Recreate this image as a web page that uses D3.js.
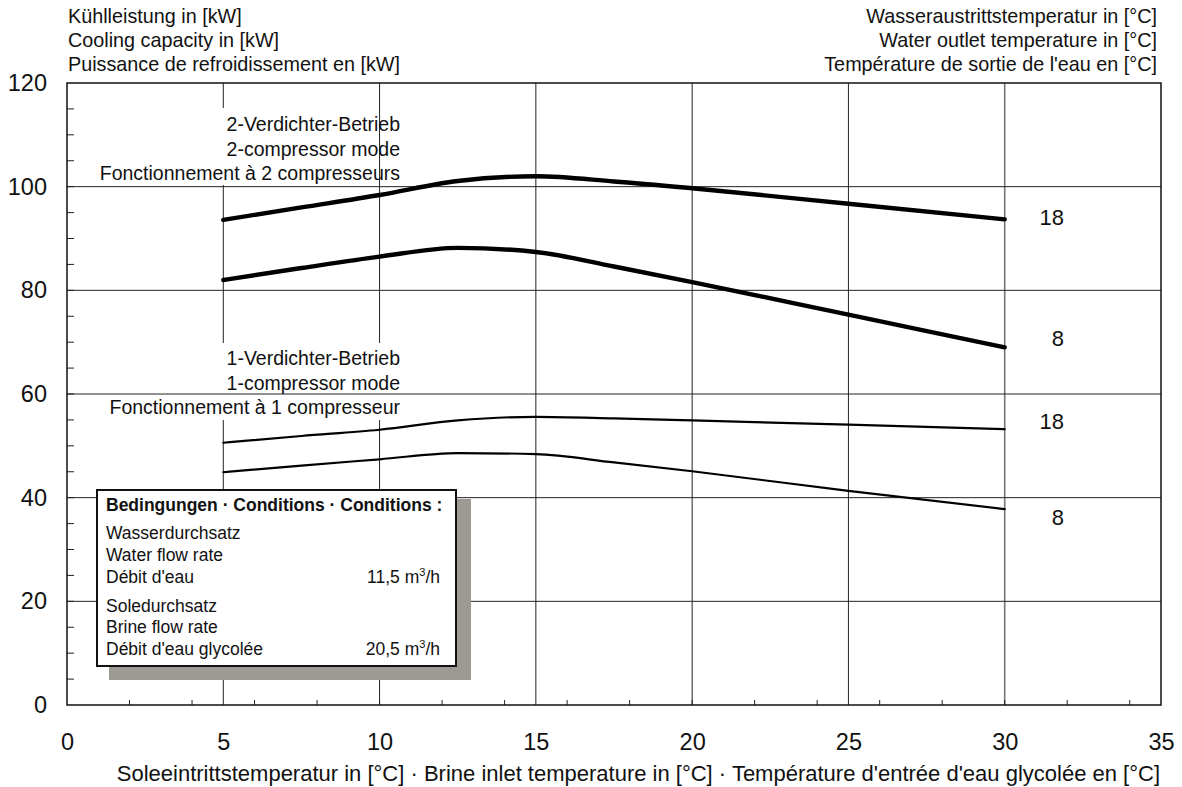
<!DOCTYPE html>
<html>
<head>
<meta charset="utf-8">
<script src="https://cdn.jsdelivr.net/npm/d3@7"></script>
<style>
body { margin: 0; background: #fff; }
svg { font-family: "Liberation Sans", Arial, sans-serif; }
</style>
</head>
<body>
<div id="grafico"></div>
<script>
// Werte
const soleTemp   = [5, 7.5, 10, 12.5, 15, 17.5, 20, 25, 30];
const zwei18     = [93.6, 96.0, 98.4, 101.1, 102.0, 101.0, 99.7, 96.7, 93.7];
const zwei8      = [82.0, 84.3, 86.5, 88.2, 87.4, 84.6, 81.6, 75.3, 69.0];
const ein18      = [50.6, 51.9, 53.1, 54.9, 55.6, 55.3, 54.9, 54.1, 53.2];
const ein8       = [44.9, 46.2, 47.4, 48.6, 48.4, 46.8, 45.1, 41.3, 37.8];
const austritt   = ["18", "8", "18", "8"];
const xTicks     = [0, 5, 10, 15, 20, 25, 30, 35];
const yTicks     = [0, 20, 40, 60, 80, 100, 120];

const titelLinks  = ["Kühlleistung in [kW]", "Cooling capacity in [kW]", "Puissance de refroidissement en [kW]"];
const titelRechts = ["Wasseraustrittstemperatur in [°C]", "Water outlet temperature in [°C]", "Température de sortie de l'eau en [°C]"];
const titelX = "Soleeintrittstemperatur in [°C] · Brine inlet temperature in [°C] · Température d'entrée d'eau glycolée en [°C]";
const text2 = ["2-Verdichter-Betrieb", "2-compressor mode", "Fonctionnement à 2 compresseurs"];
const text1 = ["1-Verdichter-Betrieb", "1-compressor mode", "Fonctionnement à 1 compresseur"];

const width = 1182;
const height = 787;
const marginLeft = 67;
const marginRight = 21;
const marginTop = 83;
const marginBottom = 82;

const svg = d3.select("#grafico")
  .append("svg")
  .attr("width", width)
  .attr("height", height);

const xScale = d3.scaleLinear().domain([0, 35]).range([marginLeft, width - marginRight]);
const yScale = d3.scaleLinear().domain([0, 120]).range([height - marginBottom, marginTop]);

// Gitter vertikal
svg.append("g")
  .selectAll("line")
  .data(xTicks.filter(d => d > 0 && d < 35))
  .enter()
  .append("line")
  .attr("x1", d => xScale(d)).attr("x2", d => xScale(d))
  .attr("y1", yScale(120)).attr("y2", yScale(0))
  .attr("stroke", d => d === 30 ? "#777" : "#222")
  .attr("stroke-width", d => d === 30 ? 1.6 : 1);

// weisse Hintergruende der Beschriftungen
svg.append("rect").attr("x", 200).attr("y", 108).attr("width", 170).attr("height", 77).attr("fill", "#fff");
svg.append("rect").attr("x", 200).attr("y", 343).attr("width", 205).attr("height", 77).attr("fill", "#fff");

// Gitter horizontal
svg.append("g")
  .selectAll("line")
  .data(yTicks.filter(d => d > 0 && d < 120))
  .enter()
  .append("line")
  .attr("x1", xScale(0)).attr("x2", xScale(35))
  .attr("y1", d => yScale(d)).attr("y2", d => yScale(d))
  .attr("stroke", "#222")
  .attr("stroke-width", 1);

// Achsen
const xAxis = d3.axisBottom(xScale).tickValues(xTicks).tickSize(0).tickPadding(28);
svg.append("g")
  .attr("transform", `translate(0,${yScale(0)})`)
  .call(xAxis)
  .call(g => g.select(".domain").remove())
  .selectAll("text").attr("font-size", 23.5).attr("fill", "#111").attr("font-family", "Liberation Sans, Arial, sans-serif");

const yAxis = d3.axisLeft(yScale).tickValues(yTicks).tickSize(0).tickPadding(20);
svg.append("g")
  .attr("transform", `translate(${xScale(0)},0)`)
  .call(yAxis)
  .call(g => g.select(".domain").remove())
  .selectAll("text").attr("font-size", 23.5).attr("fill", "#111").attr("font-family", "Liberation Sans, Arial, sans-serif");

// kleine Teilstriche
svg.append("g").selectAll("line")
  .data(d3.range(2, 35, 2))
  .enter().append("line")
  .attr("x1", d => xScale(d)).attr("x2", d => xScale(d))
  .attr("y1", yScale(0)).attr("y2", yScale(0) - 5)
  .attr("stroke", "#222");

svg.append("g").selectAll("line")
  .data(d3.range(5, 120, 5))
  .enter().append("line")
  .attr("x1", xScale(0)).attr("x2", xScale(0) + 7)
  .attr("y1", d => yScale(d)).attr("y2", d => yScale(d))
  .attr("stroke", "#222");

// Rahmen
svg.append("rect")
  .attr("x", xScale(0)).attr("y", yScale(120))
  .attr("width", xScale(35) - xScale(0)).attr("height", yScale(0) - yScale(120))
  .attr("fill", "none").attr("stroke", "#111").attr("stroke-width", 1.5);

// Kurven
const linie = d3.line()
  .x((d, i) => xScale(soleTemp[i]))
  .y(d => yScale(d))
  .curve(d3.curveMonotoneX);

const kurven = [
  { werte: zwei18, breite: 4.4, dy: -2 },
  { werte: zwei8, breite: 4.4, dy: -9 },
  { werte: ein18, breite: 2.2, dy: -8 },
  { werte: ein8, breite: 2.2, dy: 8 }
];

kurven.forEach((k, i) => {
  svg.append("path")
    .attr("d", linie(k.werte))
    .attr("fill", "none")
    .attr("stroke", "#000")
    .attr("stroke-width", k.breite)
    .attr("stroke-linecap", "round");

  svg.append("text")
    .attr("x", xScale(31.9))
    .attr("y", yScale(k.werte[k.werte.length - 1]) + k.dy)
    .attr("dy", "0.35em")
    .attr("text-anchor", "end")
    .attr("font-size", 22)
    .attr("fill", "#111")
    .text(austritt[i]);
});

// Betriebsart-Texte
const block = (zeilen, y0) => {
  svg.append("g").selectAll("text")
    .data(zeilen)
    .enter().append("text")
    .attr("x", 400)
    .attr("y", (d, i) => y0 + i * 24.5)
    .attr("text-anchor", "end")
    .attr("font-size", 19.5)
    .attr("fill", "#111")
    .text(d => d);
};
block(text2, 131);
block(text1, 365);

// Titel
svg.append("g").selectAll("text")
  .data(titelLinks).enter().append("text")
  .attr("x", 68).attr("y", (d, i) => 23 + i * 24)
  .attr("font-size", 19.8).attr("fill", "#111")
  .text(d => d);

svg.append("g").selectAll("text")
  .data(titelRechts).enter().append("text")
  .attr("x", 1157).attr("y", (d, i) => 23 + i * 24)
  .attr("text-anchor", "end")
  .attr("font-size", 19.8).attr("fill", "#111")
  .text(d => d);

svg.append("text")
  .attr("x", 1160).attr("y", 781)
  .attr("text-anchor", "end")
  .attr("font-size", 22).attr("fill", "#111")
  .text(titelX);

// Bedingungen-Kasten
svg.append("rect").attr("x", 109).attr("y", 499).attr("width", 362).attr("height", 181).attr("fill", "#9d9a93");
svg.append("rect").attr("x", 97).attr("y", 490).attr("width", 359).attr("height", 176)
  .attr("fill", "#fff").attr("stroke", "#111").attr("stroke-width", 2);

svg.append("text").attr("x", 106).attr("y", 511)
  .attr("font-size", 17.5).attr("font-weight", "bold").attr("fill", "#111")
  .text("Bedingungen · Conditions · Conditions :");

const zeilenBox = [
  ["Wasserdurchsatz", 539], ["Water flow rate", 561], ["Débit d'eau", 583],
  ["Soledurchsatz", 612], ["Brine flow rate", 633], ["Débit d'eau glycolée", 655]
];
zeilenBox.forEach(z => {
  svg.append("text").attr("x", 106).attr("y", z[1])
    .attr("font-size", 17.5).attr("fill", "#111").text(z[0]);
});

const wert = (t, y) => {
  const el = svg.append("text").attr("x", 440).attr("y", y)
    .attr("text-anchor", "end").attr("font-size", 17.5).attr("fill", "#111");
  el.append("tspan").text(t + " m");
  el.append("tspan").attr("font-size", 11).attr("dy", -7).text("3");
  el.append("tspan").attr("dy", 7).text("/h");
};
wert("11,5", 583);
wert("20,5", 655);
</script>
</body>
</html>
